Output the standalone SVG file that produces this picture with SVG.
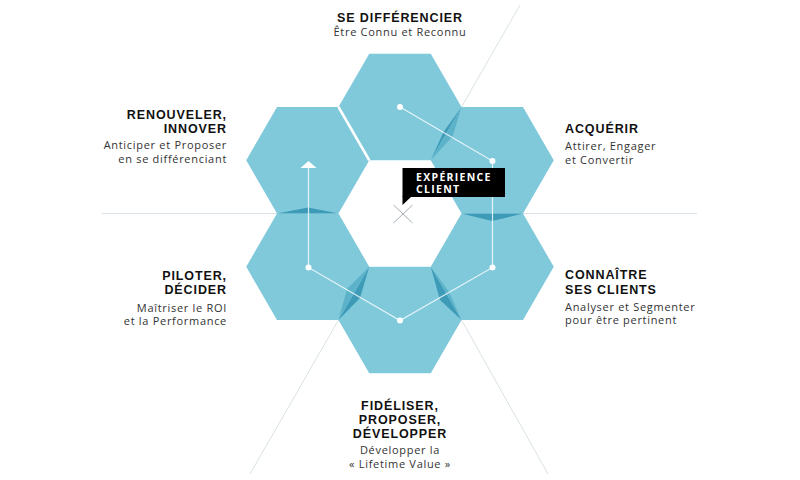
<svg xmlns="http://www.w3.org/2000/svg" width="800" height="480" viewBox="0 0 800 480">
<style>
.bg{stroke:#d9e2e6;stroke-width:1;fill:none}
.hex{fill:#7fc9db}
.dk{fill:#3d9bb8}
.md{fill:#5cb2c8}
.conn{stroke:#ffffff;stroke-opacity:0.8;stroke-width:1.2;fill:none}
.dot{fill:#ffffff}
.t{font-family:"Liberation Sans",Arial,sans-serif;font-weight:700;font-size:12.5px;letter-spacing:0.9px;fill:#111}
.s{font-family:"Open Sans","Liberation Sans",sans-serif;font-size:11px;letter-spacing:0.7px;fill:#333}
.lbl{font-family:"Open Sans","Liberation Sans",sans-serif;font-weight:700;font-size:10.5px;letter-spacing:1.3px;fill:#fff}
</style>
<defs>
<polygon id="hex" class="hex" points="-61.5,0 -30.75,-53.25 30.75,-53.25 61.5,0 30.75,53.25 -30.75,53.25"/>
</defs>
<g id="guides">
<line class="bg" x1="102" y1="213.5" x2="277" y2="213.5"/>
<line class="bg" x1="523" y1="213.5" x2="697" y2="213.5"/>
<line class="bg" x1="461.5" y1="107" x2="520" y2="5"/>
<line class="bg" x1="338.5" y1="320" x2="250" y2="474"/>
<line class="bg" x1="461.5" y1="320" x2="548" y2="474"/>
</g>
<g id="hexagons">
<use href="#hex" x="400" y="107"/>
<use href="#hex" x="492.25" y="160.25"/>
<use href="#hex" x="492.25" y="266.75"/>
<use href="#hex" x="400" y="320"/>
<use href="#hex" x="307.75" y="266.75"/>
<use href="#hex" x="307.75" y="160.25"/>
</g>
<g id="folds">
<polygon class="dk" points="461.5,107 430.75,160.25 443.5,132"/>
<polygon class="md" points="461.5,107 430.75,160.25 452.5,136.5"/>
<polygon class="dk" points="461.5,213.5 523,213.5 492,221"/>
<polygon class="dk" points="430.75,266.75 461.5,320 440,300"/>
<polygon class="md" points="430.75,266.75 461.5,320 449,292"/>
<polygon class="dk" points="369.25,266.75 338.5,320 360,298"/>
<polygon class="md" points="369.25,266.75 338.5,320 347,289"/>
<polygon class="dk" points="277,213.5 338.5,213.5 308,207.5"/>
<line x1="338.5" y1="107" x2="369.25" y2="160.25" stroke="#ffffff" stroke-width="2.5"/>
</g>
<g id="connectors">
<polyline class="conn" points="400,107 492.5,161 492.5,267.5 400,320.5 308.5,267.5 308.5,167"/>
<polygon class="dot" points="300.5,168 316.5,168 308.5,161"/>
<circle class="dot" cx="400" cy="107" r="3"/>
<circle class="dot" cx="492.5" cy="161" r="3"/>
<circle class="dot" cx="492.5" cy="267.5" r="3"/>
<circle class="dot" cx="400" cy="320.5" r="3"/>
<circle class="dot" cx="308.5" cy="267.5" r="3"/>
</g>
<g id="center">
<line x1="393.5" y1="205" x2="412.5" y2="223" stroke="#a3b0b6" stroke-width="1"/>
<line x1="393.5" y1="223" x2="412.5" y2="205" stroke="#a3b0b6" stroke-width="1"/>
<rect x="402.5" y="168" width="102.5" height="29" fill="#000"/>
<polygon points="402.5,196 412,196 402.5,205" fill="#000"/>
<text class="lbl" x="416" y="180.5">EXPÉRIENCE<tspan x="416" dy="12.5">CLIENT</tspan></text>
</g>
<g id="n-differencier">
<text class="t" x="400" y="21.5" text-anchor="middle">SE DIFFÉRENCIER</text>
<text class="s" x="400" y="36" text-anchor="middle">Être Connu et Reconnu</text>
</g>
<g id="n-acquerir">
<text class="t" x="565" y="133">ACQUÉRIR</text>
<text class="s" x="565" y="150">Attirer, Engager<tspan x="565" dy="13.5">et Convertir</tspan></text>
</g>
<g id="n-connaitre">
<text class="t" x="565" y="279">CONNAÎTRE<tspan x="565" dy="15">SES CLIENTS</tspan></text>
<text class="s" x="565" y="310.5">Analyser et Segmenter<tspan x="565" dy="13.5">pour être pertinent</tspan></text>
</g>
<g id="n-fideliser">
<text class="t" x="400" y="410" text-anchor="middle">FIDÉLISER,<tspan x="400" dy="14">PROPOSER,</tspan><tspan x="400" dy="14">DÉVELOPPER</tspan></text>
<text class="s" x="400" y="454" text-anchor="middle">Développer la<tspan x="400" dy="13.5">« Lifetime Value »</tspan></text>
</g>
<g id="n-piloter">
<text class="t" x="227" y="280" text-anchor="end">PILOTER,<tspan x="227" dy="14">DÉCIDER</tspan></text>
<text class="s" x="227" y="311.5" text-anchor="end">Maîtriser le ROI<tspan x="227" dy="13.5">et la Performance</tspan></text>
</g>
<g id="n-renouveler">
<text class="t" x="227" y="118.5" text-anchor="end">RENOUVELER,<tspan x="227" dy="14.5">INNOVER</tspan></text>
<text class="s" x="227" y="149" text-anchor="end">Anticiper et Proposer<tspan x="227" dy="13.5">en se différenciant</tspan></text>
</g>
</svg>
